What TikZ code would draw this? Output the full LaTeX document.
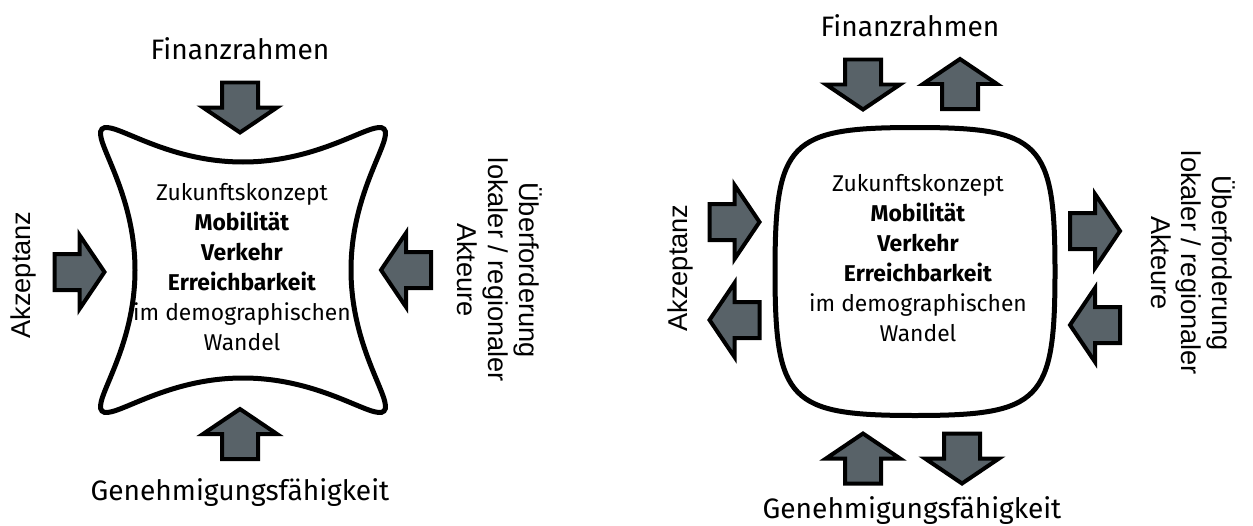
\documentclass[tikz,border=0pt]{standalone}
\usepackage{fontspec}
\setmainfont{Fira Sans}
\newfontfamily\arialfont{Liberation Sans}
\definecolor{arrowgray}{RGB}{88,98,104}
\tikzset{
  outline/.style={line width=0.1cm},
  arrowbox/.style={fill=arrowgray, line width=0.08cm, line join=miter},
  blockarrow/.pic={\draw[arrowbox] (-25,-18) -- (0,-18) -- (0,-37) -- (25,0) -- (0,37) -- (0,18) -- (-25,18) -- cycle;},
  toptext/.style={font=\fontsize{16}{19}\selectfont, anchor=base, inner sep=0pt},
  sidetext/.style={font=\arialfont\fontsize{15.5}{17.5}\selectfont, align=center, inner sep=0pt},
  coretext/.style={font=\fontsize{13}{17}\selectfont, align=center, inner sep=0pt},
}

\begin{document}
\begin{tikzpicture}[x=0.02cm, y=0.02cm]
	\useasboundingbox (0,0) rectangle (1253,525);

	% left: squeezed concept
	\begin{scope}[shift={(243,255)}]
		\draw[outline] (0,108) .. controls (80,108) and (131,151) .. (141,141)
			.. controls (151,131) and (108,80) .. (108,0)
			.. controls (108,-80) and (151,-131) .. (141,-141)
			.. controls (131,-151) and (80,-108) .. (0,-108)
			.. controls (-80,-108) and (-131,-151) .. (-141,-141)
			.. controls (-151,-131) and (-108,-80) .. (-108,0)
			.. controls (-108,80) and (-151,131) .. (-141,141)
			.. controls (-131,151) and (-80,108) .. (0,108) -- cycle;
	\end{scope}
	\node[coretext] (core1) at (242,258) {Zukunftskonzept\\\textbf{Mobilität}\\\textbf{Verkehr}\\\textbf{Erreichbarkeit}\\im demographischen\\Wandel};
	\pic[rotate=-90] at (240,417.5) {blockarrow};
	\pic at (79.5,253) {blockarrow};
	\pic[rotate=180] at (406,255) {blockarrow};
	\pic[rotate=90] at (240,91) {blockarrow};
	\node[toptext] (fin1) at (240,465) {Finanzrahmen};
	\node[toptext] (gen1) at (240,25) {Genehmigungsfähigkeit};
	\node[sidetext, rotate=90] (akz1) at (23,250) {Akzeptanz};
	\node[sidetext, rotate=-90] (akt1) at (500,255) {Überforderung\\lokaler / regionaler\\Akteure};

	% right: open concept
	\begin{scope}[shift={(915,253.5)}]
		\draw[outline] (0,144) .. controls (126,144) and (140,129.6) .. (140,0)
			.. controls (140,-129.6) and (126,-144) .. (0,-144)
			.. controls (-126,-144) and (-140,-129.6) .. (-140,0)
			.. controls (-140,129.6) and (-126,144) .. (0,144) -- cycle;
	\end{scope}
	\node[coretext] (core2) at (918,267) {Zukunftskonzept\\\textbf{Mobilität}\\\textbf{Verkehr}\\\textbf{Erreichbarkeit}\\im demographischen\\Wandel};
	\pic[rotate=-90] at (863,440.5) {blockarrow};
	\pic[rotate=90] at (960,441) {blockarrow};
	\pic at (734.5,303) {blockarrow};
	\pic[rotate=180] at (734.5,205) {blockarrow};
	\pic at (1095,294) {blockarrow};
	\pic[rotate=180] at (1095,200) {blockarrow};
	\pic[rotate=90] at (863,66.5) {blockarrow};
	\pic[rotate=-90] at (962,66.5) {blockarrow};
	\node[toptext] (fin2) at (910,488) {Finanzrahmen};
	\node[toptext] (gen2) at (912,7) {Genehmigungsfähigkeit};
	\node[sidetext, rotate=90] (akz2) at (680,257) {Akzeptanz};
	\node[sidetext, rotate=-90] (akt2) at (1193,262) {Überforderung\\lokaler / regionaler\\Akteure};
\end{tikzpicture}
\end{document}
